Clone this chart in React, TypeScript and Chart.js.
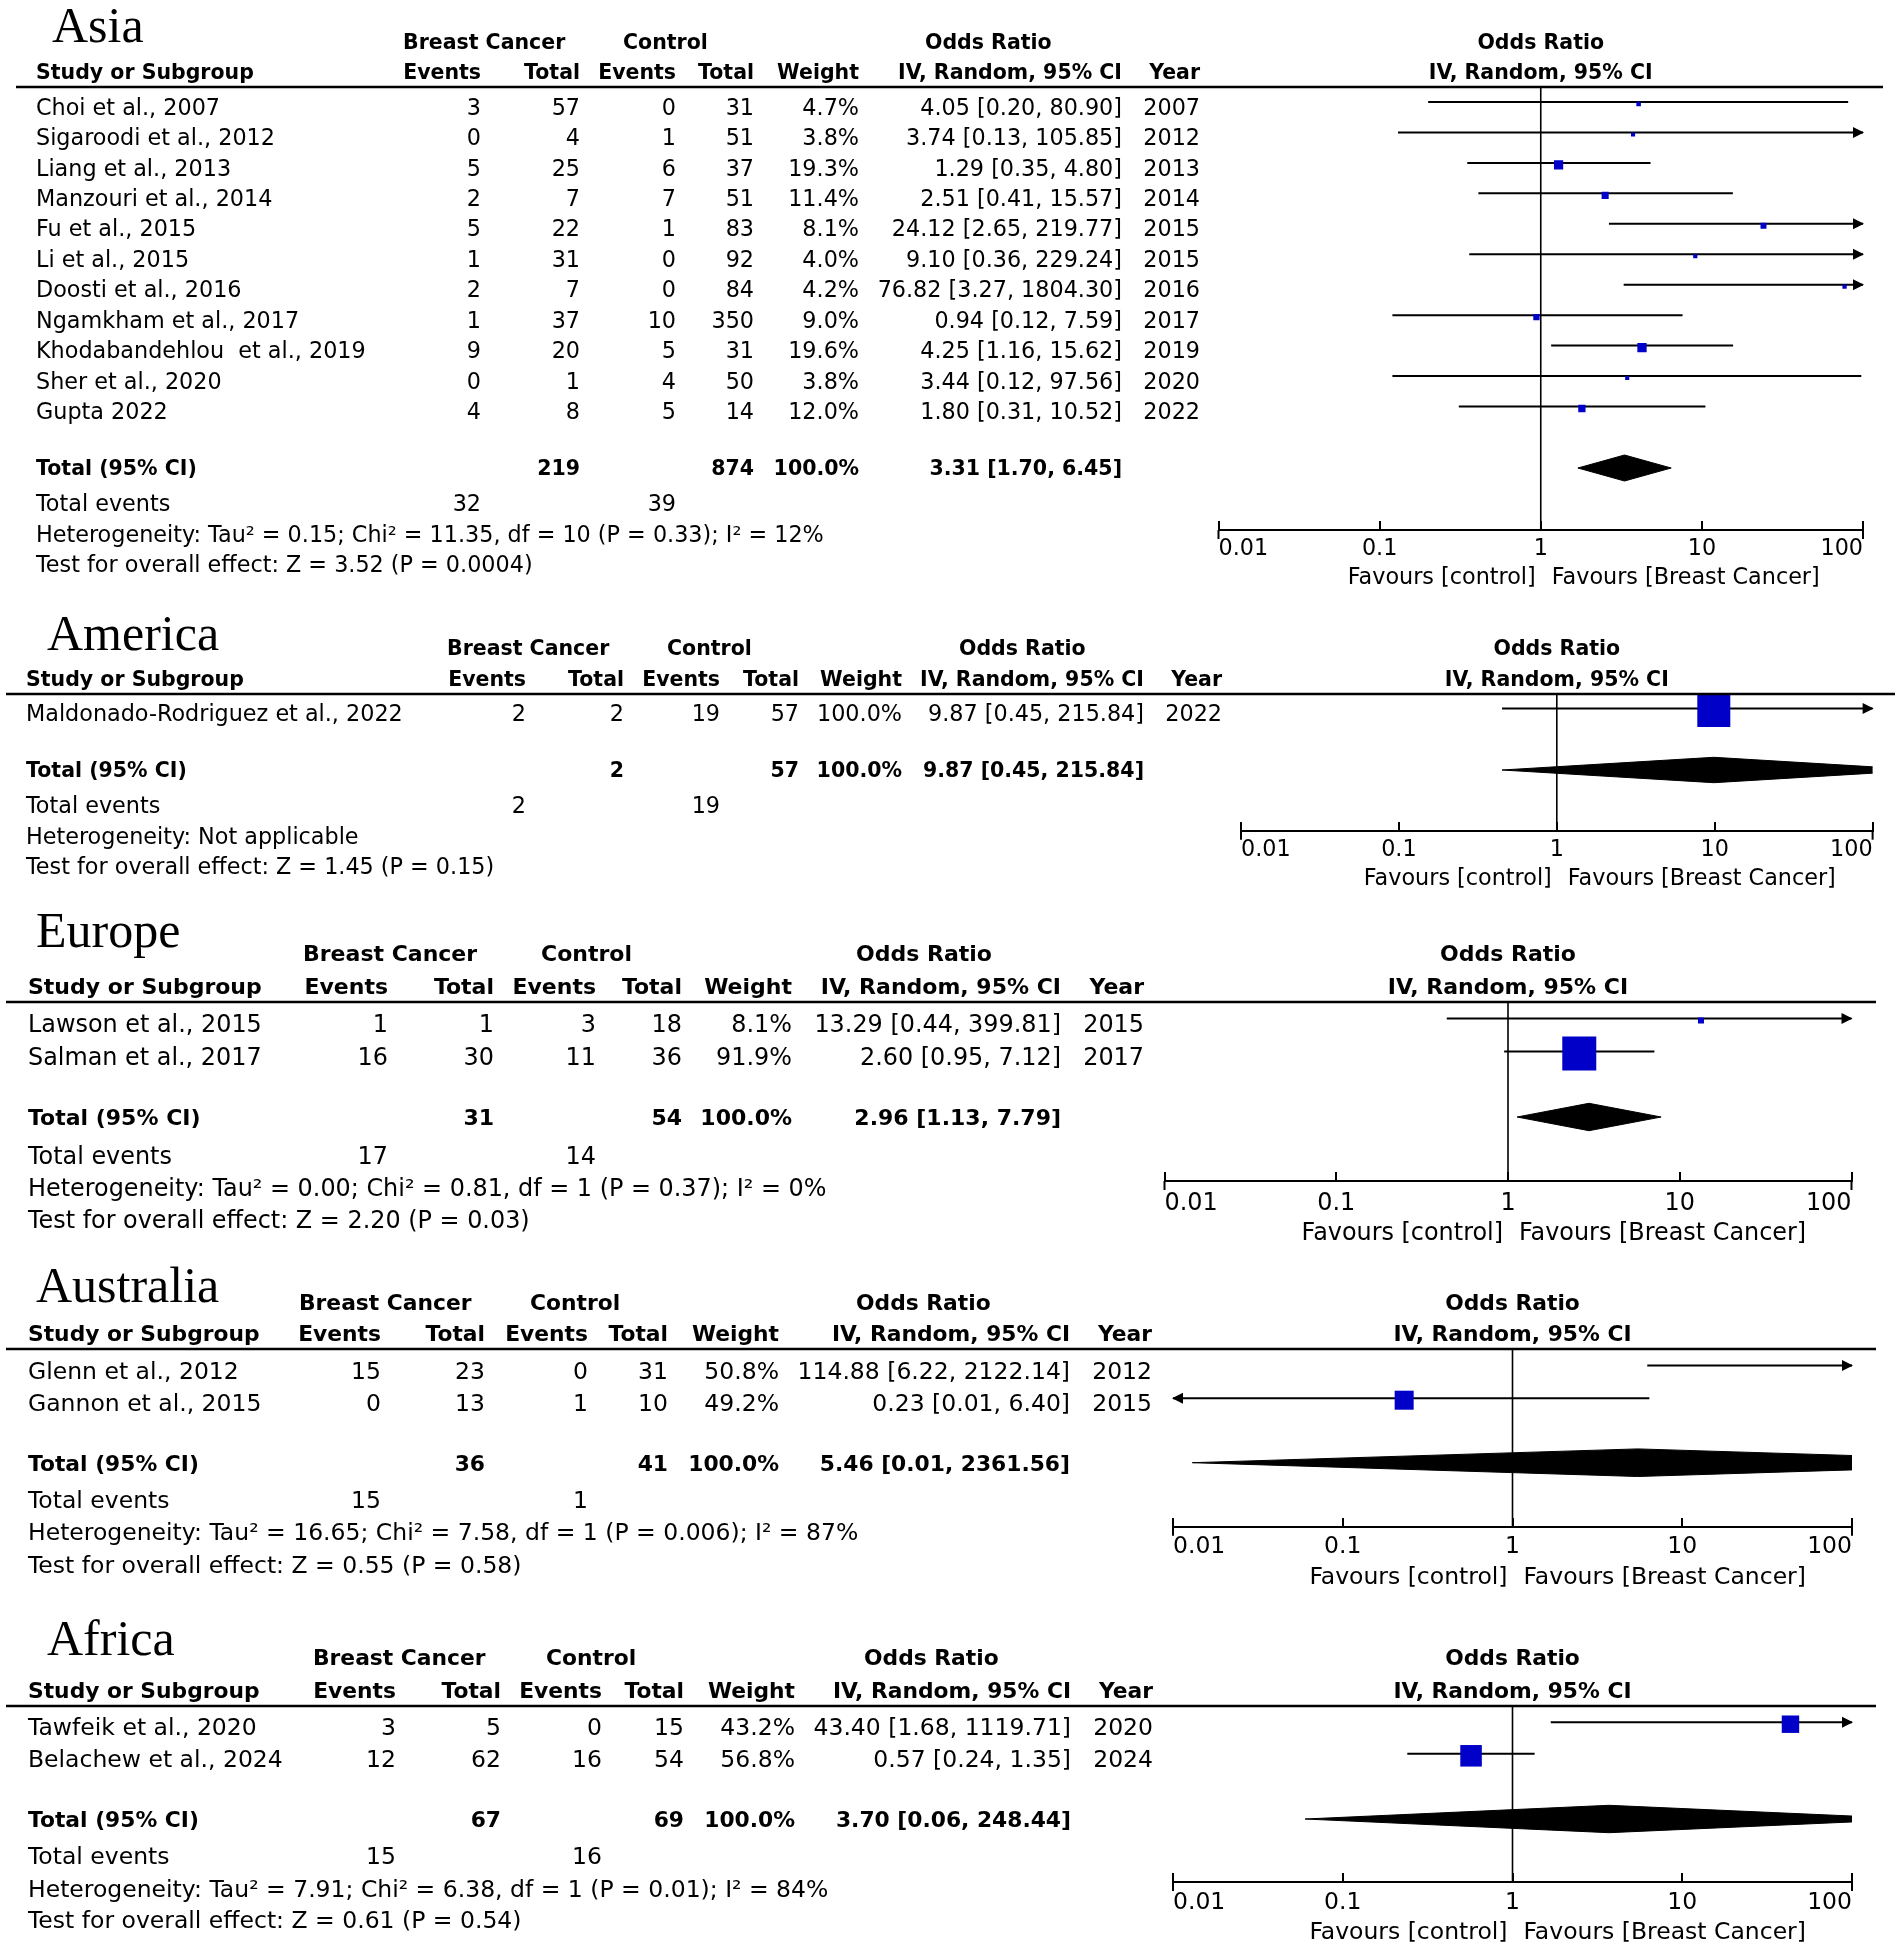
import React, { useEffect, useRef } from "react";
import { Chart, registerables } from "chart.js";

Chart.register(...registerables);

const FIG_W = 1902;
const FIG_H = 1949;
const BLUE = "#0000C8";
const FONT = '"DejaVu Sans", Verdana, sans-serif';
const TITLE_FONT = '"Liberation Serif", "Times New Roman", serif';

const AXIS_TICKS = [0.01, 0.1, 1, 10, 100];
const AXIS_TICK_LABELS = ["0.01", "0.1", "1", "10", "100"];
const FAVOURS_LEFT = "Favours [control]";
const FAVOURS_RIGHT = "Favours [Breast Cancer]";
const HEAD_GROUPS = ["Breast Cancer", "Control", "Odds Ratio"];
const HEAD_COLUMNS = ["Study or Subgroup", "Events", "Total", "Events", "Total", "Weight", "IV, Random, 95% CI", "Year"];
const PLOT_HEAD = ["Odds Ratio", "IV, Random, 95% CI"];
const TOTAL_LABEL = "Total (95% CI)";
const TOTAL_EVENTS_LABEL = "Total events";
const TOTAL_WEIGHT_LABEL = "100.0%";

// ---------------- Asia ----------------
const ASIA_STUDIES = [
  "Choi et al., 2007",
  "Sigaroodi et al., 2012",
  "Liang et al., 2013",
  "Manzouri et al., 2014",
  "Fu et al., 2015",
  "Li et al., 2015",
  "Doosti et al., 2016",
  "Ngamkham et al., 2017",
  "Khodabandehlou  et al., 2019",
  "Sher et al., 2020",
  "Gupta 2022",
];
const ASIA_BC_EVENTS = [3, 0, 5, 2, 5, 1, 2, 1, 9, 0, 4];
const ASIA_BC_TOTAL = [57, 4, 25, 7, 22, 31, 7, 37, 20, 1, 8];
const ASIA_CTL_EVENTS = [0, 1, 6, 7, 1, 0, 0, 10, 5, 4, 5];
const ASIA_CTL_TOTAL = [31, 51, 37, 51, 83, 92, 84, 350, 31, 50, 14];
const ASIA_WEIGHT = [4.7, 3.8, 19.3, 11.4, 8.1, 4.0, 4.2, 9.0, 19.6, 3.8, 12.0];
const ASIA_OR = [4.05, 3.74, 1.29, 2.51, 24.12, 9.1, 76.82, 0.94, 4.25, 3.44, 1.8];
const ASIA_LO = [0.2, 0.13, 0.35, 0.41, 2.65, 0.36, 3.27, 0.12, 1.16, 0.12, 0.31];
const ASIA_HI = [80.9, 105.85, 4.8, 15.57, 219.77, 229.24, 1804.3, 7.59, 15.62, 97.56, 10.52];
const ASIA_YEAR = [2007, 2012, 2013, 2014, 2015, 2015, 2016, 2017, 2019, 2020, 2022];
const ASIA_TOTALS = [219, 874];
const ASIA_TOTAL_EVENTS = [32, 39];
const ASIA_POOLED = [3.31, 1.7, 6.45];
const ASIA_HET = "Heterogeneity: Tau² = 0.15; Chi² = 11.35, df = 10 (P = 0.33); I² = 12%";
const ASIA_TEST = "Test for overall effect: Z = 3.52 (P = 0.0004)";

// ---------------- America ----------------
const AMERICA_STUDIES = ["Maldonado-Rodriguez et al., 2022"];
const AMERICA_BC_EVENTS = [2];
const AMERICA_BC_TOTAL = [2];
const AMERICA_CTL_EVENTS = [19];
const AMERICA_CTL_TOTAL = [57];
const AMERICA_WEIGHT = [100.0];
const AMERICA_OR = [9.87];
const AMERICA_LO = [0.45];
const AMERICA_HI = [215.84];
const AMERICA_YEAR = [2022];
const AMERICA_TOTALS = [2, 57];
const AMERICA_TOTAL_EVENTS = [2, 19];
const AMERICA_POOLED = [9.87, 0.45, 215.84];
const AMERICA_HET = "Heterogeneity: Not applicable";
const AMERICA_TEST = "Test for overall effect: Z = 1.45 (P = 0.15)";

// ---------------- Europe ----------------
const EUROPE_STUDIES = ["Lawson et al., 2015", "Salman et al., 2017"];
const EUROPE_BC_EVENTS = [1, 16];
const EUROPE_BC_TOTAL = [1, 30];
const EUROPE_CTL_EVENTS = [3, 11];
const EUROPE_CTL_TOTAL = [18, 36];
const EUROPE_WEIGHT = [8.1, 91.9];
const EUROPE_OR = [13.29, 2.6];
const EUROPE_LO = [0.44, 0.95];
const EUROPE_HI = [399.81, 7.12];
const EUROPE_YEAR = [2015, 2017];
const EUROPE_TOTALS = [31, 54];
const EUROPE_TOTAL_EVENTS = [17, 14];
const EUROPE_POOLED = [2.96, 1.13, 7.79];
const EUROPE_HET = "Heterogeneity: Tau² = 0.00; Chi² = 0.81, df = 1 (P = 0.37); I² = 0%";
const EUROPE_TEST = "Test for overall effect: Z = 2.20 (P = 0.03)";

// ---------------- Australia ----------------
const AUSTRALIA_STUDIES = ["Glenn et al., 2012", "Gannon et al., 2015"];
const AUSTRALIA_BC_EVENTS = [15, 0];
const AUSTRALIA_BC_TOTAL = [23, 13];
const AUSTRALIA_CTL_EVENTS = [0, 1];
const AUSTRALIA_CTL_TOTAL = [31, 10];
const AUSTRALIA_WEIGHT = [50.8, 49.2];
const AUSTRALIA_OR = [114.88, 0.23];
const AUSTRALIA_LO = [6.22, 0.006];
const AUSTRALIA_HI = [2122.14, 6.4];
const AUSTRALIA_YEAR = [2012, 2015];
const AUSTRALIA_TOTALS = [36, 41];
const AUSTRALIA_TOTAL_EVENTS = [15, 1];
const AUSTRALIA_POOLED = [5.46, 0.013, 2361.56];
const AUSTRALIA_HET = "Heterogeneity: Tau² = 16.65; Chi² = 7.58, df = 1 (P = 0.006); I² = 87%";
const AUSTRALIA_TEST = "Test for overall effect: Z = 0.55 (P = 0.58)";

// ---------------- Africa ----------------
const AFRICA_STUDIES = ["Tawfeik et al., 2020", "Belachew et al., 2024"];
const AFRICA_BC_EVENTS = [3, 12];
const AFRICA_BC_TOTAL = [5, 62];
const AFRICA_CTL_EVENTS = [0, 16];
const AFRICA_CTL_TOTAL = [15, 54];
const AFRICA_WEIGHT = [43.2, 56.8];
const AFRICA_OR = [43.4, 0.57];
const AFRICA_LO = [1.68, 0.24];
const AFRICA_HI = [1119.71, 1.35];
const AFRICA_YEAR = [2020, 2024];
const AFRICA_TOTALS = [67, 69];
const AFRICA_TOTAL_EVENTS = [15, 16];
const AFRICA_POOLED = [3.7, 0.06, 248.44];
const AFRICA_HET = "Heterogeneity: Tau² = 7.91; Chi² = 6.38, df = 1 (P = 0.01); I² = 84%";
const AFRICA_TEST = "Test for overall effect: Z = 0.61 (P = 0.54)";

type Layout = {
  top: number; bottom: number; fs: number; fsb: number; titleSize: number;
  titleX: number; titleBase: number; studyX: number; cols: number[]; groupX: number[];
  head1Y: number; head2Y: number; ruleY: number; ruleX0: number; ruleX1: number;
  row0: number; rowStep: number; totalY: number; teY: number; hetY: number; testY: number;
  x0: number; x1: number; axisY: number; tickLabelY: number; favY: number; diamondH: number;
  boxA: number; boxP: number;
};

type PanelData = {
  title: string; studies: string[]; bcEvents: number[]; bcTotal: number[]; ctlEvents: number[];
  ctlTotal: number[]; weight: number[]; or: number[]; lo: number[]; hi: number[]; year: number[];
  totals: number[]; totalEvents: number[]; pooled: number[]; het: string; test: string; layout: Layout;
};

const LAYOUT_ASIA: Layout = {
  top: 0, bottom: 595, fs: 22.3, fsb: 20.5, titleSize: 50, titleX: 52, titleBase: 42, studyX: 36,
  cols: [481, 580, 676, 754, 859, 1122, 1200], groupX: [403, 623, 925], head1Y: 41.5, head2Y: 71.5,
  ruleY: 87, ruleX0: 16, ruleX1: 1883, row0: 106.5, rowStep: 30.45, totalY: 468, teY: 503, hetY: 533.5, testY: 564,
  x0: 1218.5, x1: 1863, axisY: 530, tickLabelY: 549, favY: 575.5, diamondH: 13, boxA: 2.1, boxP: 0.5,
};
const LAYOUT_AMERICA: Layout = {
  top: 595, bottom: 895, fs: 22.3, fsb: 20.5, titleSize: 50, titleX: 47, titleBase: 649.5, studyX: 26,
  cols: [526, 624, 720, 799, 902, 1144, 1222], groupX: [447, 667, 959], head1Y: 648, head2Y: 679,
  ruleY: 694, ruleX0: 6, ruleX1: 1895, row0: 713, rowStep: 30.4, totalY: 770, teY: 805, hetY: 836, testY: 866,
  x0: 1241, x1: 1872.6, axisY: 830.7, tickLabelY: 850, favY: 877, diamondH: 12.7, boxA: 3.3, boxP: 0.5,
};
const LAYOUT_EUROPE: Layout = {
  top: 895, bottom: 1250, fs: 23.9, fsb: 22, titleSize: 50, titleX: 36, titleBase: 947, studyX: 28,
  cols: [388, 494, 596, 682, 792, 1061, 1144], groupX: [303, 541, 856], head1Y: 953, head2Y: 986,
  ruleY: 1002, ruleX0: 6, ruleX1: 1876, row0: 1023, rowStep: 33, totalY: 1117, teY: 1155, hetY: 1187, testY: 1219,
  x0: 1164.5, x1: 1851.5, axisY: 1181, tickLabelY: 1203.5, favY: 1231.5, diamondH: 13.7, boxA: 1.36, boxP: 0.712,
};
const LAYOUT_AUSTRALIA: Layout = {
  top: 1250, bottom: 1600, fs: 23.5, fsb: 21.8, titleSize: 50, titleX: 36, titleBase: 1302, studyX: 28,
  cols: [381, 485, 588, 668, 779, 1070, 1152], groupX: [299, 530, 856], head1Y: 1302, head2Y: 1333,
  ruleY: 1349, ruleX0: 6, ruleX1: 1876, row0: 1370, rowStep: 32.7, totalY: 1462.7, teY: 1499.3, hetY: 1531.7, testY: 1564,
  x0: 1173, x1: 1852, axisY: 1526.7, tickLabelY: 1547, favY: 1575, diamondH: 13.8, boxA: 2.71, boxP: 0.5,
};
const LAYOUT_AFRICA: Layout = {
  top: 1600, bottom: 1949, fs: 23.5, fsb: 21.8, titleSize: 50, titleX: 47, titleBase: 1655, studyX: 28,
  cols: [396, 501, 602, 684, 795, 1071, 1153], groupX: [313, 546, 864], head1Y: 1657, head2Y: 1690,
  ruleY: 1706, ruleX0: 6, ruleX1: 1876, row0: 1726.7, rowStep: 31.6, totalY: 1819, teY: 1855, hetY: 1888.3, testY: 1919,
  x0: 1173, x1: 1852, axisY: 1882, tickLabelY: 1903, favY: 1930.5, diamondH: 13.7, boxA: 0.96, boxP: 0.77,
};

const PANELS: PanelData[] = [
  {
    title: "Asia", studies: ASIA_STUDIES, bcEvents: ASIA_BC_EVENTS, bcTotal: ASIA_BC_TOTAL,
    ctlEvents: ASIA_CTL_EVENTS, ctlTotal: ASIA_CTL_TOTAL, weight: ASIA_WEIGHT, or: ASIA_OR, lo: ASIA_LO,
    hi: ASIA_HI, year: ASIA_YEAR, totals: ASIA_TOTALS, totalEvents: ASIA_TOTAL_EVENTS, pooled: ASIA_POOLED,
    het: ASIA_HET, test: ASIA_TEST, layout: LAYOUT_ASIA,
  },
  {
    title: "America", studies: AMERICA_STUDIES, bcEvents: AMERICA_BC_EVENTS, bcTotal: AMERICA_BC_TOTAL,
    ctlEvents: AMERICA_CTL_EVENTS, ctlTotal: AMERICA_CTL_TOTAL, weight: AMERICA_WEIGHT, or: AMERICA_OR,
    lo: AMERICA_LO, hi: AMERICA_HI, year: AMERICA_YEAR, totals: AMERICA_TOTALS,
    totalEvents: AMERICA_TOTAL_EVENTS, pooled: AMERICA_POOLED, het: AMERICA_HET, test: AMERICA_TEST,
    layout: LAYOUT_AMERICA,
  },
  {
    title: "Europe", studies: EUROPE_STUDIES, bcEvents: EUROPE_BC_EVENTS, bcTotal: EUROPE_BC_TOTAL,
    ctlEvents: EUROPE_CTL_EVENTS, ctlTotal: EUROPE_CTL_TOTAL, weight: EUROPE_WEIGHT, or: EUROPE_OR,
    lo: EUROPE_LO, hi: EUROPE_HI, year: EUROPE_YEAR, totals: EUROPE_TOTALS, totalEvents: EUROPE_TOTAL_EVENTS,
    pooled: EUROPE_POOLED, het: EUROPE_HET, test: EUROPE_TEST, layout: LAYOUT_EUROPE,
  },
  {
    title: "Australia", studies: AUSTRALIA_STUDIES, bcEvents: AUSTRALIA_BC_EVENTS, bcTotal: AUSTRALIA_BC_TOTAL,
    ctlEvents: AUSTRALIA_CTL_EVENTS, ctlTotal: AUSTRALIA_CTL_TOTAL, weight: AUSTRALIA_WEIGHT, or: AUSTRALIA_OR,
    lo: AUSTRALIA_LO, hi: AUSTRALIA_HI, year: AUSTRALIA_YEAR, totals: AUSTRALIA_TOTALS,
    totalEvents: AUSTRALIA_TOTAL_EVENTS, pooled: AUSTRALIA_POOLED, het: AUSTRALIA_HET, test: AUSTRALIA_TEST,
    layout: LAYOUT_AUSTRALIA,
  },
  {
    title: "Africa", studies: AFRICA_STUDIES, bcEvents: AFRICA_BC_EVENTS, bcTotal: AFRICA_BC_TOTAL,
    ctlEvents: AFRICA_CTL_EVENTS, ctlTotal: AFRICA_CTL_TOTAL, weight: AFRICA_WEIGHT, or: AFRICA_OR,
    lo: AFRICA_LO, hi: AFRICA_HI, year: AFRICA_YEAR, totals: AFRICA_TOTALS, totalEvents: AFRICA_TOTAL_EVENTS,
    pooled: AFRICA_POOLED, het: AFRICA_HET, test: AFRICA_TEST, layout: LAYOUT_AFRICA,
  },
];

const AXIS_MIN = AXIS_TICKS[0];
const AXIS_MAX = AXIS_TICKS[AXIS_TICKS.length - 1];
const TICK_LEN = -10;

const fmtCI = (or: number, lo: number, hi: number) => `${or.toFixed(2)} [${lo.toFixed(2)}, ${hi.toFixed(2)}]`;
const rowCenter = (L: Layout, i: number) => L.row0 + i * L.rowStep;
const whiskerY = (L: Layout, i: number) => rowCenter(L, i) - 4.5;
const boxY = (L: Layout, i: number) => rowCenter(L, i) - 2.5;

function arrowHead(ctx: CanvasRenderingContext2D, tipX: number, y: number, dir: number) {
  ctx.beginPath();
  ctx.moveTo(tipX, y);
  ctx.lineTo(tipX + dir * 11, y - 5.5);
  ctx.lineTo(tipX + dir * 11, y + 5.5);
  ctx.closePath();
  ctx.fill();
}

function forestPlugin(P: PanelData) {
  const L = P.layout;
  return {
    id: "forest_" + P.title,
    afterDatasetsDraw(chart: any) {
      const ctx: CanvasRenderingContext2D = chart.ctx;
      const xs = chart.scales.x;
      const ys = chart.scales.y;
      const xl = xs.getPixelForValue(AXIS_MIN);
      const xr = xs.getPixelForValue(AXIS_MAX);
      ctx.save();
      ctx.fillStyle = "#000";
      P.lo.forEach((lo, i) => {
        const y = ys.getPixelForValue(whiskerY(L, i));
        if (P.hi[i] > AXIS_MAX) arrowHead(ctx, xr + 1, y, -1);
        if (lo < AXIS_MIN) arrowHead(ctx, xl - 1, y, 1);
      });
      ctx.restore();
    },
    afterDraw(chart: any) {
      const ctx: CanvasRenderingContext2D = chart.ctx;
      const xs = chart.scales.x;
      const ys = chart.scales.y;
      const Y = (v: number) => ys.getPixelForValue(v);
      const reg = `${L.fs}px ${FONT}`;
      const bold = `bold ${L.fsb}px ${FONT}`;
      const put = (s: string, x: number, cy: number, isBold: boolean, align: CanvasTextAlign) => {
        ctx.font = isBold ? bold : reg;
        ctx.textAlign = align;
        ctx.fillText(s, x, Y(cy) + 0.365 * (isBold ? L.fsb : L.fs));
      };
      ctx.save();
      ctx.fillStyle = "#000";
      ctx.strokeStyle = "#000";
      ctx.textBaseline = "alphabetic";

      ctx.font = `${L.titleSize}px ${TITLE_FONT}`;
      ctx.textAlign = "left";
      ctx.fillText(P.title, L.titleX, Y(L.titleBase));

      HEAD_GROUPS.forEach((s, k) => put(s, L.groupX[k], L.head1Y, true, "left"));
      put(HEAD_COLUMNS[0], L.studyX, L.head2Y, true, "left");
      for (let k = 1; k < HEAD_COLUMNS.length; k++) put(HEAD_COLUMNS[k], L.cols[k - 1], L.head2Y, true, "right");
      const xOne = xs.getPixelForValue(1);
      put(PLOT_HEAD[0], xOne, L.head1Y, true, "center");
      put(PLOT_HEAD[1], xOne, L.head2Y, true, "center");

      ctx.lineWidth = 2.5;
      ctx.beginPath();
      ctx.moveTo(L.ruleX0, Y(L.ruleY));
      ctx.lineTo(L.ruleX1, Y(L.ruleY));
      ctx.stroke();

      P.studies.forEach((name, i) => {
        const c = rowCenter(L, i);
        put(name, L.studyX, c, false, "left");
        const cells = [
          String(P.bcEvents[i]), String(P.bcTotal[i]), String(P.ctlEvents[i]), String(P.ctlTotal[i]),
          P.weight[i].toFixed(1) + "%", fmtCI(P.or[i], P.lo[i], P.hi[i]), String(P.year[i]),
        ];
        cells.forEach((s, k) => put(s, L.cols[k], c, false, "right"));
      });

      put(TOTAL_LABEL, L.studyX, L.totalY, true, "left");
      put(String(P.totals[0]), L.cols[1], L.totalY, true, "right");
      put(String(P.totals[1]), L.cols[3], L.totalY, true, "right");
      put(TOTAL_WEIGHT_LABEL, L.cols[4], L.totalY, true, "right");
      put(fmtCI(P.pooled[0], P.pooled[1], P.pooled[2]), L.cols[5], L.totalY, true, "right");

      put(TOTAL_EVENTS_LABEL, L.studyX, L.teY, false, "left");
      put(String(P.totalEvents[0]), L.cols[0], L.teY, false, "right");
      put(String(P.totalEvents[1]), L.cols[2], L.teY, false, "right");
      put(P.het, L.studyX, L.hetY, false, "left");
      put(P.test, L.studyX, L.testY, false, "left");

      put(FAVOURS_LEFT, xOne - 5, L.favY, false, "right");
      put(FAVOURS_RIGHT, xOne + 11, L.favY, false, "left");

      ctx.lineWidth = 2;
      [AXIS_MIN, AXIS_MAX].forEach((v) => {
        const x = xs.getPixelForValue(v);
        ctx.beginPath();
        ctx.moveTo(x, Y(L.axisY));
        ctx.lineTo(x, Y(L.axisY) + 9);
        ctx.stroke();
      });
      ctx.restore();
    },
  };
}

function buildConfig(P: PanelData): any {
  const L = P.layout;
  const datasets: any[] = [];
  datasets.push({
    label: "estimate",
    order: 0,
    showLine: false,
    data: P.or.map((v, i) => ({ x: v, y: boxY(L, i) })),
    pointStyle: "rect",
    pointRadius: P.weight.map((w) => (L.boxA * Math.pow(w, L.boxP)) / Math.SQRT2),
    pointHoverRadius: 0,
    pointBackgroundColor: BLUE,
    backgroundColor: BLUE,
    pointBorderWidth: 0,
    borderWidth: 0,
    clip: 0,
  });
  P.lo.forEach((lo, i) => {
    datasets.push({
      label: "ci" + i,
      order: 1,
      showLine: true,
      data: [
        { x: lo, y: whiskerY(L, i) },
        { x: P.hi[i], y: whiskerY(L, i) },
      ],
      borderColor: "#000",
      borderWidth: 2,
      pointRadius: 0,
      pointHoverRadius: 0,
      fill: false,
      clip: 0,
    });
  });
  datasets.push({
    label: "pooled",
    order: 2,
    showLine: true,
    fill: "shape",
    backgroundColor: "#000",
    borderColor: "#000",
    borderWidth: 1,
    pointRadius: 0,
    pointHoverRadius: 0,
    tension: 0,
    clip: 0,
    data: [
      { x: P.pooled[1], y: L.totalY },
      { x: P.pooled[0], y: L.totalY - L.diamondH },
      { x: P.pooled[2], y: L.totalY },
      { x: P.pooled[0], y: L.totalY + L.diamondH },
      { x: P.pooled[1], y: L.totalY },
    ],
  });
  datasets.push({
    label: "no effect",
    order: 3,
    showLine: true,
    data: [
      { x: 1, y: L.ruleY },
      { x: 1, y: L.axisY },
    ],
    borderColor: "#000",
    borderWidth: 1.6,
    pointRadius: 0,
    pointHoverRadius: 0,
    fill: false,
  });

  const padding = L.tickLabelY - L.axisY - TICK_LEN - 0.6 * L.fs;

  return {
    type: "scatter",
    data: { datasets },
    options: {
      animation: false,
      responsive: false,
      devicePixelRatio: 1,
      events: [],
      layout: { autoPadding: false, padding: { left: L.x0, right: FIG_W - L.x1, top: 0, bottom: 0 } },
      plugins: { legend: { display: false }, tooltip: { enabled: false }, title: { display: false } },
      scales: {
        x: {
          type: "logarithmic",
          min: AXIS_MIN,
          max: AXIS_MAX,
          position: { y: L.axisY },
          border: { display: true, color: "#000", width: 2 },
          grid: {
            display: true,
            drawOnChartArea: false,
            drawTicks: true,
            tickLength: TICK_LEN,
            tickColor: "#000",
            tickWidth: 2,
            color: "#000",
            lineWidth: 2,
          },
          ticks: {
            align: "inner",
            autoSkip: false,
            maxRotation: 0,
            minRotation: 0,
            padding,
            color: "#000",
            font: { family: FONT, size: L.fs },
            callback: (_v: any, i: number) => AXIS_TICK_LABELS[i],
          },
          afterBuildTicks: (scale: any) => {
            scale.ticks = AXIS_TICKS.map((v) => ({ value: v }));
          },
        },
        y: { type: "linear", display: false, min: L.top, max: L.bottom, reverse: true },
      },
    },
    plugins: [forestPlugin(P)],
  };
}

function ForestPanel({ panel }: { panel: PanelData }) {
  const ref = useRef<HTMLCanvasElement | null>(null);
  const L = panel.layout;
  const h = L.bottom - L.top;
  useEffect(() => {
    if (!ref.current) return;
    const chart = new Chart(ref.current, buildConfig(panel));
    return () => chart.destroy();
  }, [panel]);
  return (
    <canvas
      ref={ref}
      width={FIG_W}
      height={h}
      style={{ position: "absolute", left: 0, top: L.top, width: FIG_W, height: h, display: "block" }}
    />
  );
}

export default function App() {
  return (
    <div
      style={{
        position: "absolute",
        left: 0,
        top: 0,
        width: FIG_W,
        height: FIG_H,
        background: "#fff",
        overflow: "hidden",
      }}
    >
      {PANELS.map((p) => (
        <ForestPanel key={p.title} panel={p} />
      ))}
    </div>
  );
}
